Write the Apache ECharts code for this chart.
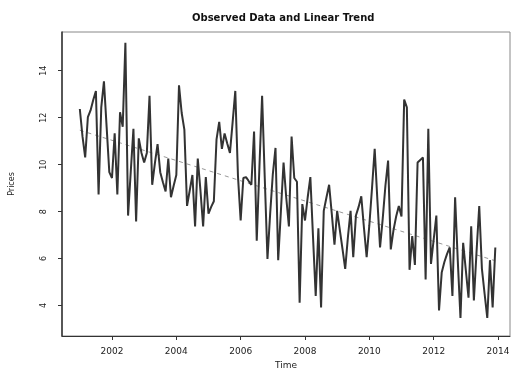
<!DOCTYPE html>
<html>
<head>
<meta charset="utf-8">
<script src="https://cdn.jsdelivr.net/npm/echarts@6/dist/echarts.min.js"></script>
<style>
  html, body { margin: 0; padding: 0; background: #fff; }
  #chart { width: 514px; height: 375px; }
</style>
</head>
<body>
<div id="chart"></div>
<script>
// Monthly observations, January 2001 onwards
const startYear = 2001;
const observed = [
  12.37, 11.20, 10.31, 12.02, 12.31, 12.75, 13.14, 8.73, 12.44, 13.55, 11.61, 9.68,
  9.43, 11.33, 8.73, 12.23, 11.61, 15.19, 7.83, 9.70, 11.53, 7.58, 11.12, 10.50,
  10.09, 10.50, 12.93, 9.14, 10.05, 10.87, 9.68, 9.25, 8.86, 10.26, 8.61, 9.10,
  9.56, 13.38, 12.20, 11.49, 8.24, 8.90, 9.56, 7.37, 10.26, 8.90, 7.37, 9.47,
  7.91, 8.20, 8.44, 11.08, 11.82, 10.67, 11.33, 10.90, 10.50, 11.80, 13.14, 9.50,
  7.62, 9.43, 9.47, 9.30, 9.14, 11.41, 6.76, 9.90, 12.93, 9.40, 5.98, 7.90,
  9.60, 10.71, 5.93, 8.00, 10.09, 8.60, 7.37, 11.20, 9.43, 9.27, 4.12, 8.32,
  7.62, 8.60, 9.47, 6.90, 4.41, 7.29, 3.92, 8.03, 8.60, 9.14, 7.90, 6.59,
  8.03, 7.21, 6.40, 5.56, 6.90, 8.03, 6.06, 7.83, 8.20, 8.65, 7.30, 6.06,
  7.42, 9.00, 10.67, 8.50, 6.47, 7.70, 9.10, 10.17, 6.39, 7.20, 7.79, 8.24,
  7.79, 12.77, 12.44, 5.52, 6.96, 5.73, 10.09, 10.20, 10.30, 5.11, 11.53, 5.77,
  6.80, 7.83, 3.79, 5.40, 5.85, 6.20, 6.47, 4.41, 8.61, 5.90, 3.47, 6.67,
  5.50, 4.33, 7.37, 4.21, 6.30, 8.24, 5.56, 4.50, 3.47, 5.93, 3.92, 6.47
];
const yearTicks = [2002, 2004, 2006, 2008, 2010, 2012, 2014];
const valueTicks = [4, 6, 8, 10, 12, 14];

// time in decimal years
const times = observed.map((_, i) => startYear + i / 12);
const obsData = observed.map((v, i) => [times[i], v]);

// least-squares linear trend
const n = observed.length;
const mt = times.reduce((a, b) => a + b, 0) / n;
const mv = observed.reduce((a, b) => a + b, 0) / n;
let sxy = 0, sxx = 0;
for (let i = 0; i < n; i++) {
  sxy += (times[i] - mt) * (observed[i] - mv);
  sxx += (times[i] - mt) * (times[i] - mt);
}
const slope = sxy / sxx;
const icpt = mv - slope * mt;
const trendData = [times[0], times[n - 1]].map(t => [t, icpt + slope * t]);

const font = 'DejaVu Sans';
const chart = echarts.init(document.getElementById('chart'), null, { renderer: 'canvas' });
chart.setOption({
  animation: false,
  backgroundColor: '#fff',
  title: {
    text: 'Observed Data and Linear Trend',
    left: 187, top: 8,
    textStyle: { fontFamily: font, fontSize: 10, fontWeight: 'bold', color: '#111' }
  },
  grid: {
    left: 62, right: 4, top: 32, bottom: 28,
    show: true, borderColor: '#888', borderWidth: 1
  },
  xAxis: {
    type: 'value',
    min: 2000.446, max: 2014.373,
    name: 'Time', nameLocation: 'middle', nameGap: 25,
    nameTextStyle: { fontFamily: font, fontSize: 9, color: '#222' },
    axisLine: { show: true, onZero: false, lineStyle: { color: '#333', width: 1 } },
    axisTick: { show: true, length: 4, lineStyle: { color: '#333' }, customValues: yearTicks },
    axisLabel: {
      fontFamily: font, fontSize: 9, color: '#222', margin: 11,
      customValues: yearTicks, formatter: v => String(Math.round(v))
    },
    splitLine: { show: false }
  },
  yAxis: {
    type: 'value',
    min: 2.7, max: 15.65,
    name: 'Prices', nameLocation: 'middle', nameGap: 46, nameRotate: 90,
    nameTextStyle: { fontFamily: font, fontSize: 8, color: '#222' },
    axisLine: { show: true, onZero: false, lineStyle: { color: '#333', width: 1.5 } },
    axisTick: { show: true, length: 4, lineStyle: { color: '#333' }, customValues: valueTicks },
    axisLabel: {
      fontFamily: font, fontSize: 8, color: '#222', rotate: 90, margin: 14,
      customValues: valueTicks, formatter: v => String(Math.round(v))
    },
    splitLine: { show: false }
  },
  series: [
    {
      name: 'Observed', type: 'line', data: obsData,
      showSymbol: false, symbol: 'none',
      lineStyle: { color: '#333', width: 2 },
      z: 3
    },
    {
      name: 'Trend', type: 'line', data: trendData,
      showSymbol: false, symbol: 'none',
      lineStyle: { color: '#999', width: 1, type: [4, 4] },
      z: 2
    }
  ]
});
</script>
</body>
</html>
